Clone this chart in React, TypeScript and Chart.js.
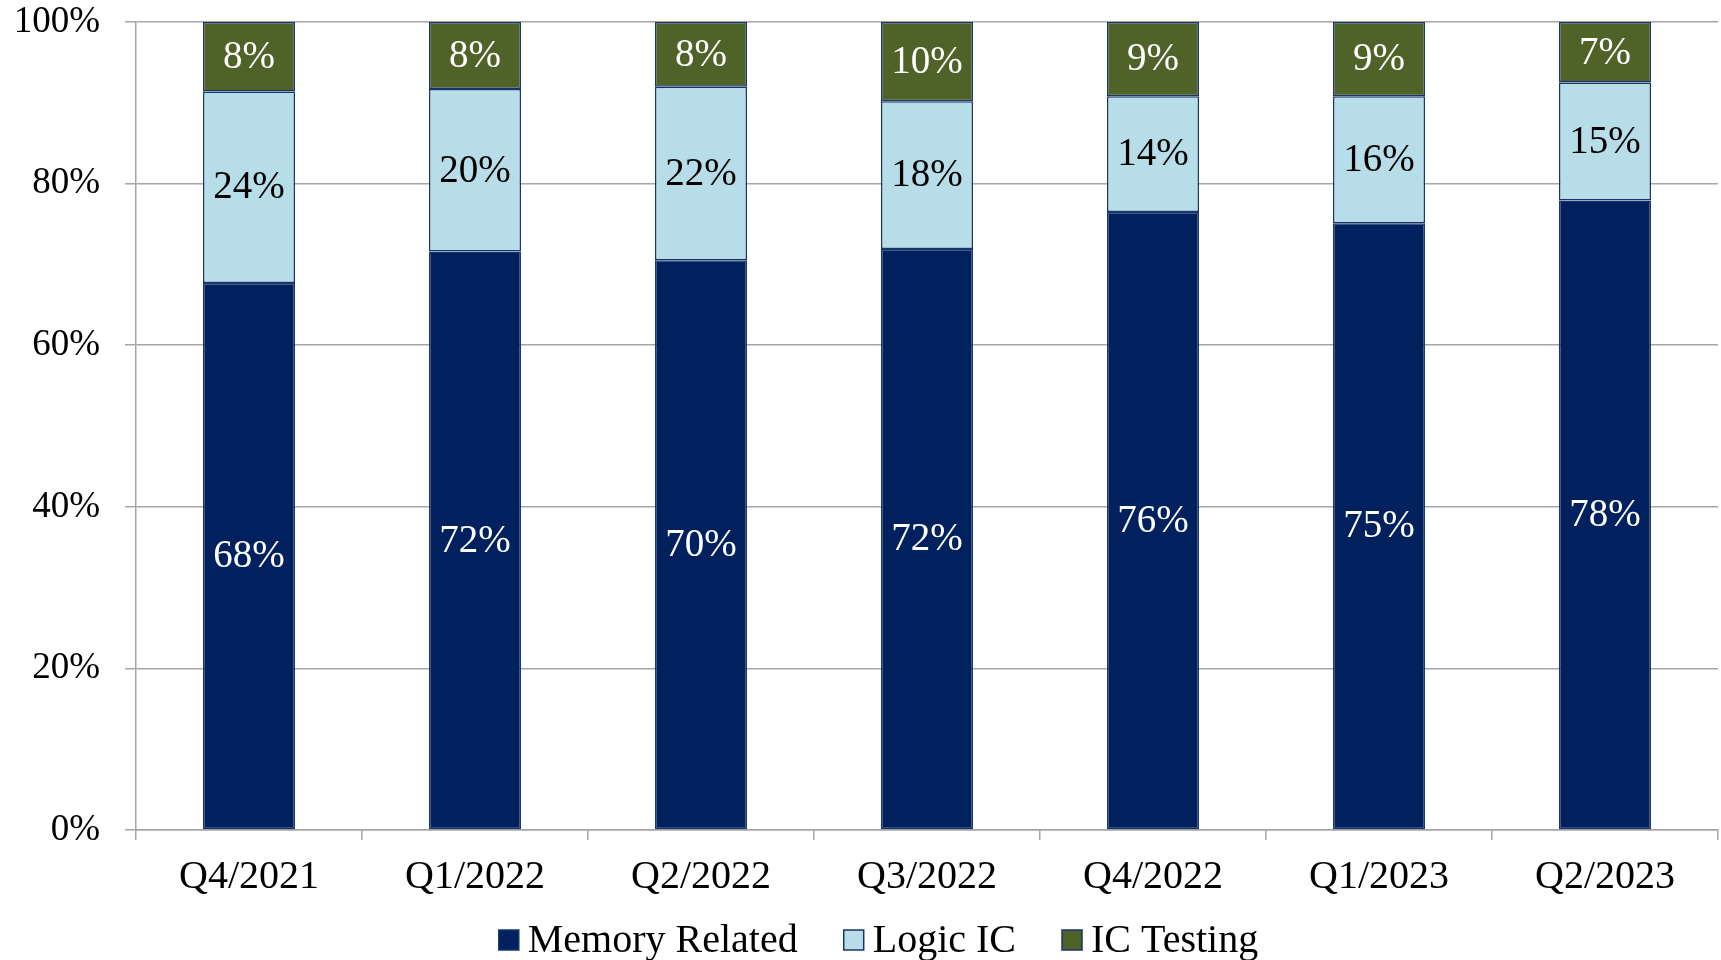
import React, { useEffect, useRef } from "react";
import { Chart, registerables } from "chart.js";

Chart.register(...registerables);

const categories = ["Q4/2021", "Q1/2022", "Q2/2022", "Q3/2022", "Q4/2022", "Q1/2023", "Q2/2023"];
const memoryValues = [67.7, 71.6, 70.5, 71.9, 76.5, 75.1, 77.9];
const logicValues = [23.7, 20.1, 21.5, 18.3, 14.3, 15.7, 14.6];
const testingValues = [8.6, 8.3, 8.0, 9.8, 9.2, 9.2, 7.5];
const memoryLabels = ["68%", "72%", "70%", "72%", "76%", "75%", "78%"];
const logicLabels = ["24%", "20%", "22%", "18%", "14%", "16%", "15%"];
const testingLabels = ["8%", "8%", "8%", "10%", "9%", "9%", "7%"];
const yTicks = [0, 20, 40, 60, 80, 100];

const FONT = "'Liberation Serif', 'Times New Roman', serif";
const BORDER = "#17356a";
const GRID = "#a6a6a6";

const labelPlugin = {
  id: "segmentLabels",
  afterDatasetsDraw(chart: any) {
    const ctx = chart.ctx;
    ctx.save();
    ctx.font = `39px ${FONT}`;
    ctx.textAlign = "center";
    ctx.textBaseline = "middle";
    chart.data.datasets.forEach((ds: any, di: number) => {
      const meta = chart.getDatasetMeta(di);
      meta.data.forEach((el: any, i: number) => {
        ctx.fillStyle = ds.labelColor;
        ctx.fillText(ds.segLabels[i], el.x, (el.y + el.base) / 2 + 1);
      });
    });
    ctx.restore();
  },
};

const legendPlugin = {
  id: "customLegend",
  afterDraw(chart: any) {
    const ctx = chart.ctx;
    const box = 20;
    const textGap = 9;
    const itemGap = 46;
    ctx.save();
    ctx.font = `40px ${FONT}`;
    ctx.textBaseline = "middle";
    ctx.textAlign = "left";
    const items = chart.data.datasets.map((ds: any) => ({
      label: ds.label,
      color: ds.backgroundColor,
      w: ctx.measureText(ds.label).width,
    }));
    const total = items.reduce((a: number, it: any) => a + box + textGap + it.w, 0) + itemGap * (items.length - 1);
    let x = chart.width / 2 + 18 - total / 2;
    const cy = 940;
    items.forEach((it: any) => {
      ctx.fillStyle = it.color;
      ctx.fillRect(x, cy - box / 2, box, box);
      ctx.strokeStyle = BORDER;
      ctx.lineWidth = 1.5;
      ctx.strokeRect(x, cy - box / 2, box, box);
      ctx.fillStyle = "#000000";
      ctx.fillText(it.label, x + box + textGap, cy + 1);
      x += box + textGap + it.w + itemGap;
    });
    ctx.restore();
  },
};

export default function App() {
  const ref = useRef<HTMLCanvasElement>(null);
  useEffect(() => {
    document.body.style.margin = "0";
    const common = {
      borderColor: BORDER,
      borderWidth: 1.5,
      borderSkipped: false,
      categoryPercentage: 1,
      barPercentage: 0.407,
    };
    const chart = new Chart(ref.current!, {
      type: "bar",
      data: {
        labels: categories,
        datasets: [
          { label: "Memory Related", data: memoryValues, backgroundColor: "#00205e", segLabels: memoryLabels, labelColor: "#ffffff", ...common } as any,
          { label: "Logic IC", data: logicValues, backgroundColor: "#b7dde8", segLabels: logicLabels, labelColor: "#000000", ...common } as any,
          { label: "IC Testing", data: testingValues, backgroundColor: "#4f6228", segLabels: testingLabels, labelColor: "#ffffff", ...common } as any,
        ],
      },
      options: {
        animation: false,
        responsive: true,
        maintainAspectRatio: false,
        layout: { padding: { top: 22, right: 3, left: 0, bottom: 52 } },
        plugins: {
          tooltip: { enabled: false },
          legend: { display: false },
        },
        scales: {
          x: {
            stacked: true,
            grid: { display: true, drawOnChartArea: false, drawTicks: true, tickLength: 10, color: GRID, lineWidth: 1.5 },
            border: { display: true, color: GRID, width: 1.5 },
            ticks: { font: { family: FONT, size: 40 }, color: "#000000", padding: 13, maxRotation: 0 },
            afterFit: (s: any) => { s.height = 78; s.paddingLeft = 0; s.paddingRight = 0; },
          },
          y: {
            stacked: true,
            min: 0,
            max: 100,
            afterBuildTicks: (s: any) => { s.ticks = yTicks.map((v) => ({ value: v })); },
            grid: { color: GRID, lineWidth: 1.5, tickLength: 11, drawTicks: true },
            border: { display: true, color: GRID, width: 1.5 },
            ticks: { font: { family: FONT, size: 37 }, color: "#000000", padding: 25, callback: (v: any) => v + "%" },
            afterFit: (s: any) => { s.width = 136; s.paddingTop = 0; s.paddingBottom = 0; },
          },
        },
      },
      plugins: [labelPlugin, legendPlugin],
    });
    return () => chart.destroy();
  }, []);
  return (
    <div style={{ position: "absolute", left: 0, top: 0, width: 1721, height: 960 }}>
      <canvas ref={ref} />
    </div>
  );
}
